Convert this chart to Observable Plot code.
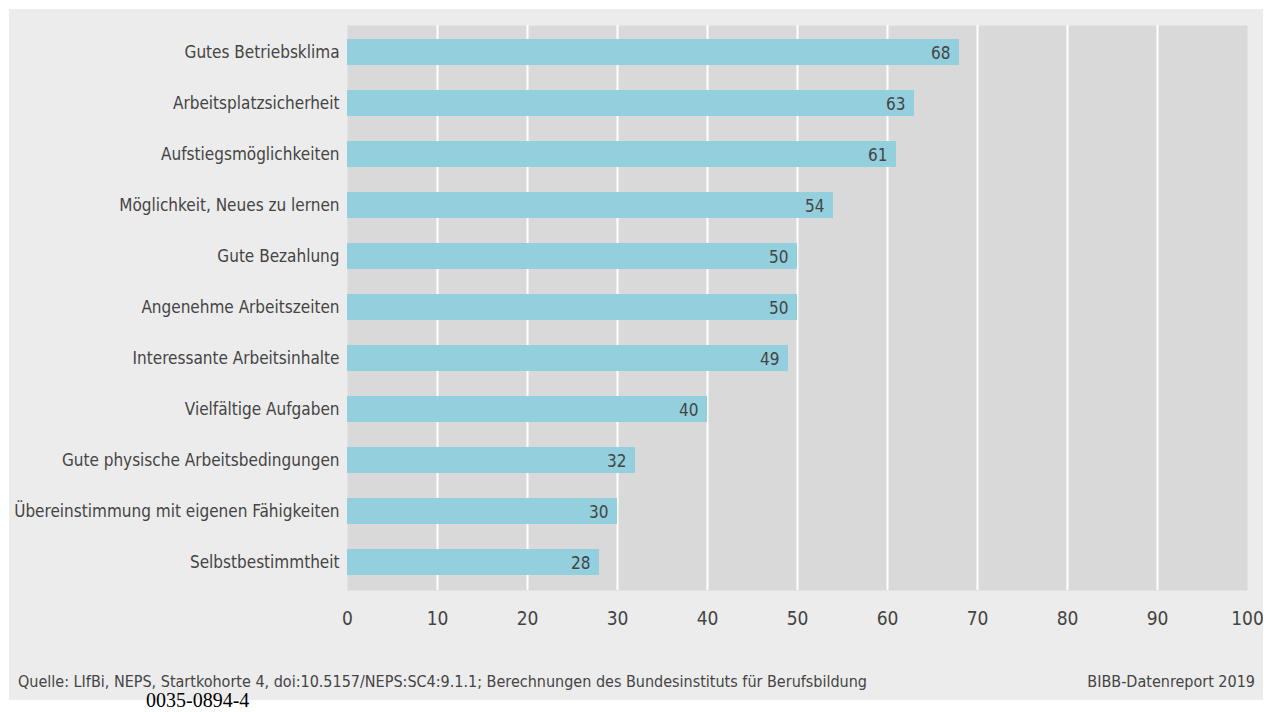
<!DOCTYPE html>
<html><head><meta charset="utf-8">
<script src="https://cdn.jsdelivr.net/npm/d3@7"></script>
<script src="https://cdn.jsdelivr.net/npm/@observablehq/plot@0.6"></script>
<style>
body{margin:0;background:#fff;width:1267px;height:712px;overflow:hidden;position:relative;font-family:"DejaVu Sans Condensed","Liberation Sans Narrow",sans-serif;}
#panel{position:absolute;left:9px;top:9px;width:1254px;height:691px;background:#ececec;}
#chart{position:absolute;left:0;top:0;}
.cap{position:absolute;top:663px;font-size:16px;line-height:20px;color:#444;white-space:nowrap;}
#code{position:absolute;left:146px;top:690px;font-family:"Liberation Serif","DejaVu Serif",serif;font-size:20px;line-height:20px;color:#000;}
</style></head>
<body>
<div id="panel"><div id="chart"></div>
<div class="cap" style="left:9px">Quelle: LIfBi, NEPS, Startkohorte 4, doi:10.5157/NEPS:SC4:9.1.1; Berechnungen des Bundesinstituts für Berufsbildung</div>
<div class="cap" style="right:8px">BIBB-Datenreport 2019</div>
</div>
<div id="code">0035-0894-4</div>
<script>
const categories = ["Gutes Betriebsklima","Arbeitsplatzsicherheit","Aufstiegsmöglichkeiten","Möglichkeit, Neues zu lernen","Gute Bezahlung","Angenehme Arbeitszeiten","Interessante Arbeitsinhalte","Vielfältige Aufgaben","Gute physische Arbeitsbedingungen","Übereinstimmung mit eigenen Fähigkeiten","Selbstbestimmtheit"];
const values = [68,63,61,54,50,50,49,40,32,30,28];
const xTicks = [0,10,20,30,40,50,60,70,80,90,100];
const gridTicks = [10,20,30,40,50,60,70,80,90];

const data = categories.map((c,i)=>({cat:c, v:values[i]}));
const font = '"DejaVu Sans Condensed","Liberation Sans Narrow",sans-serif';
const chart = Plot.plot({
  width:1254, height:630,
  marginLeft:338, marginRight:16, marginTop:16, marginBottom:49,
  style:{fontFamily:font, fontSize:"17px", color:"#444", background:"transparent"},
  x:{domain:[0,100], ticks:xTicks, tickSize:0, tickPadding:21, label:null, tickFormat:d=>d},
  y:{domain:categories, paddingInner:0.49, paddingOuter:0.24, tickSize:0, tickPadding:8, label:null},
  marks:[
    Plot.frame({fill:"#d9d9d9", stroke:null}),
    Plot.ruleX(gridTicks, {stroke:"#fff", strokeWidth:2}),
    Plot.barX(data, {x:"v", y:"cat", fill:"#93cfdd"}),
    Plot.text(data, {x:"v", y:"cat", text:d=>String(d.v), textAnchor:"end", dx:-9, dy:1, fill:"#444", fontSize:17}),
    Plot.axisX({ticks:xTicks, tickSize:0, tickPadding:21, fontSize:19, label:null, tickFormat:d=>d}),
    Plot.axisY({tickSize:0, tickPadding:8, fontSize:17, label:null})
  ]
});
document.getElementById("chart").appendChild(chart);
</script>
</body></html>
